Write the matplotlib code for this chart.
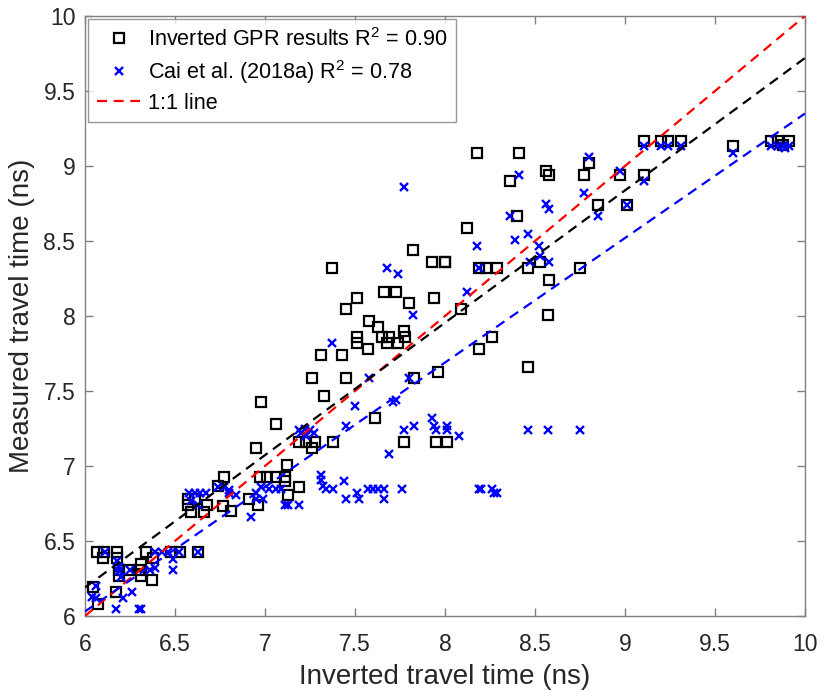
import numpy as np
import matplotlib
matplotlib.use("Agg")
import matplotlib.pyplot as plt

plt.rcParams['font.family'] = ['Liberation Sans', 'DejaVu Sans']
plt.rcParams['mathtext.fontset'] = 'custom'
plt.rcParams['mathtext.rm'] = 'Liberation Sans'

# inverted GPR results (x: inverted, y: measured)
gpr_x = [9.105, 9.20, 9.24, 9.31, 9.60, 9.81, 9.85, 9.88, 9.91,
         9.105, 8.97, 8.80, 8.77, 8.176, 8.41, 8.56, 8.58, 8.36,
         8.85, 9.01, 8.40, 8.12, 8.00, 8.19, 8.23, 8.29, 8.46, 8.53, 8.75, 8.58, 8.57, 8.09,
         8.26, 8.19, 8.46, 8.01, 7.96,
         7.82, 7.93, 8.00, 7.37, 7.66, 7.73, 7.51, 7.45, 7.80, 7.94, 7.58, 7.63,
         7.51, 7.51, 7.65, 7.69, 7.77, 7.78, 7.68, 7.74, 7.57, 7.31, 7.43, 7.26, 7.45, 7.83,
         6.98, 7.33, 7.06, 6.95, 7.19, 7.23, 7.28, 7.26, 7.38, 7.61, 7.77, 7.95,
         7.12, 6.97, 7.01, 7.06, 7.11, 7.11, 7.19, 7.13, 6.77, 6.765, 6.91, 6.96, 6.81,
         6.74, 6.57, 6.61, 6.57, 6.59, 6.66, 6.68,
         6.065, 6.10, 6.18, 6.18, 6.34, 6.38, 6.48, 6.53, 6.63, 6.105,
         6.19, 6.24, 6.19, 6.30, 6.31, 6.31, 6.37, 6.046, 6.17, 6.07]
gpr_y = [9.17, 9.17, 9.17, 9.17, 9.13, 9.17, 9.17, 9.14, 9.17,
         8.94, 8.94, 9.02, 8.94, 9.09, 9.09, 8.97, 8.94, 8.90,
         8.74, 8.74, 8.67, 8.59, 8.36, 8.32, 8.32, 8.32, 8.32, 8.36, 8.32, 8.24, 8.01, 8.05,
         7.86, 7.78, 7.66, 7.16, 7.63,
         8.44, 8.36, 8.36, 8.32, 8.16, 8.16, 8.12, 8.05, 8.09, 8.12, 7.97, 7.93,
         7.86, 7.82, 7.86, 7.86, 7.90, 7.86, 7.82, 7.82, 7.78, 7.74, 7.74, 7.59, 7.59, 7.59,
         7.43, 7.47, 7.28, 7.12, 7.16, 7.16, 7.16, 7.12, 7.16, 7.32, 7.16, 7.16,
         7.01, 6.93, 6.93, 6.93, 6.93, 6.90, 6.86, 6.81, 6.93, 6.73, 6.78, 6.74, 6.70,
         6.87, 6.78, 6.78, 6.74, 6.69, 6.69, 6.74,
         6.43, 6.39, 6.43, 6.39, 6.43, 6.39, 6.43, 6.43, 6.43, 6.43,
         6.31, 6.31, 6.27, 6.31, 6.35, 6.27, 6.24, 6.195, 6.16, 6.08]

# Cai et al. (2018a)
cai_x = [8.80, 9.105, 9.20, 9.24, 9.31, 9.105, 8.97, 9.60, 9.81, 9.85, 9.88, 9.91, 9.89,
         8.41, 8.77, 8.56, 8.58, 8.36, 8.85, 9.01, 8.46, 8.39, 8.18, 8.52, 8.53, 8.47, 8.58, 8.19, 8.12,
         7.77, 7.68, 7.74, 7.82, 7.37, 7.58, 7.80, 7.50, 7.71, 7.73, 7.45, 7.69, 7.77, 7.83,
         7.93, 7.94, 7.95, 8.01, 8.01, 8.08,
         7.19, 7.22, 7.25, 7.27, 7.20, 7.23,
         7.31, 7.31, 7.32, 7.34, 7.38, 7.44, 7.51, 7.45, 7.52, 7.57, 7.60, 7.63, 7.66, 7.76, 7.66,
         8.46, 8.57, 8.75, 8.19, 8.20, 8.26, 8.27, 8.29,
         6.98, 7.02, 7.06, 7.09, 6.95, 6.95, 6.99, 7.11, 7.13, 7.19, 6.92, 6.80, 6.77,
         6.58, 6.61, 6.64, 6.67, 6.63, 6.59, 6.80, 6.84, 6.74,
         6.11, 6.39, 6.43, 6.46, 6.52, 6.63, 6.49, 6.49, 6.39, 6.36, 6.19, 6.19, 6.20, 6.25, 6.18,
         6.06, 6.06, 6.21, 6.26, 6.17, 6.30, 6.31, 6.04]
cai_y = [9.06, 9.13, 9.13, 9.13, 9.13, 8.90, 8.97, 9.09, 9.13, 9.13, 9.13, 9.13, 9.12,
         8.94, 8.82, 8.75, 8.71, 8.67, 8.67, 8.74, 8.55, 8.51, 8.47, 8.47, 8.40, 8.36, 8.36, 8.32, 8.16,
         8.86, 8.32, 8.28, 8.01, 7.82, 7.59, 7.59, 7.40, 7.43, 7.44, 7.27, 7.08, 7.24, 7.27,
         7.32, 7.27, 7.24, 7.27, 7.24, 7.20,
         7.24, 7.25, 7.24, 7.22, 7.22, 7.20,
         6.94, 6.91, 6.87, 6.85, 6.85, 6.90, 6.82, 6.78, 6.78, 6.85, 6.85, 6.85, 6.85, 6.85, 6.78,
         7.24, 7.24, 7.24, 6.85, 6.85, 6.85, 6.82, 6.82,
         6.86, 6.85, 6.85, 6.85, 6.82, 6.78, 6.78, 6.74, 6.74, 6.74, 6.66, 6.84, 6.86,
         6.82, 6.82, 6.82, 6.82, 6.74, 6.77, 6.82, 6.81, 6.86,
         6.43, 6.43, 6.43, 6.43, 6.43, 6.43, 6.38, 6.31, 6.32, 6.31, 6.33, 6.30, 6.26, 6.31, 6.37,
         6.20, 6.12, 6.12, 6.16, 6.05, 6.05, 6.05, 6.13]

# fitted lines (slope, intercept)
gpr_fit = (0.8825, 0.895)
cai_fit = (0.83, 1.05)
line_x = [6, 10]
tick_vals = [6, 6.5, 7, 7.5, 8, 8.5, 9, 9.5, 10]
tick_text = ['6', '6.5', '7', '7.5', '8', '8.5', '9', '9.5', '10']

fig = plt.figure(figsize=(8.22, 6.93), dpi=100)
ax = fig.add_axes([85 / 822, 77 / 693, 720 / 822, 600 / 693])

ax.plot(gpr_x, gpr_y, 's', mfc='none', mec='black', ms=6.5, mew=1.6,
        label='Inverted GPR results R$^2$ = 0.90', zorder=3)
ax.plot(cai_x, cai_y, 'x', color='blue', ms=5.5, mew=1.7,
        label='Cai et al. (2018a) R$^2$ = 0.78', zorder=3)
ax.plot(line_x, line_x, '--', color='red', lw=1.6, dashes=(4.5, 3),
        label='1:1 line', zorder=4)
lx = np.array(line_x, dtype=float)
ax.plot(lx, gpr_fit[0] * lx + gpr_fit[1], '--', color='black', lw=1.6,
        dashes=(4.5, 3), zorder=4)
ax.plot(lx, cai_fit[0] * lx + cai_fit[1], '--', color='blue', lw=1.6,
        dashes=(4.5, 3), zorder=4)

ax.set_xlim(6, 10)
ax.set_ylim(6, 10)
ax.set_xticks(tick_vals)
ax.set_yticks(tick_vals)
ax.set_xticklabels(tick_text)
ax.set_yticklabels(tick_text)
ax.tick_params(direction='in', top=True, right=True, length=6, width=1,
               color='#808080', labelsize=16.5, labelcolor='#262626')
ax.tick_params(axis='x', pad=12)
ax.tick_params(axis='y', pad=7)
for sp in ax.spines.values():
    sp.set_color('#808080')
    sp.set_linewidth(1)

ax.set_xlabel('Inverted travel time (ns)', fontsize=20, color='#262626', labelpad=6)
ax.set_ylabel('Measured travel time (ns)', fontsize=20, color='#262626', labelpad=6)

leg = ax.legend(loc='upper left', fontsize=15.6, frameon=True, fancybox=False,
                edgecolor='#808080', borderaxespad=0.15, handlelength=2.0,
                handletextpad=0.35, borderpad=0.4, labelspacing=0.32)
leg.get_frame().set_linewidth(1)

fig.savefig('out.png', dpi=100)
